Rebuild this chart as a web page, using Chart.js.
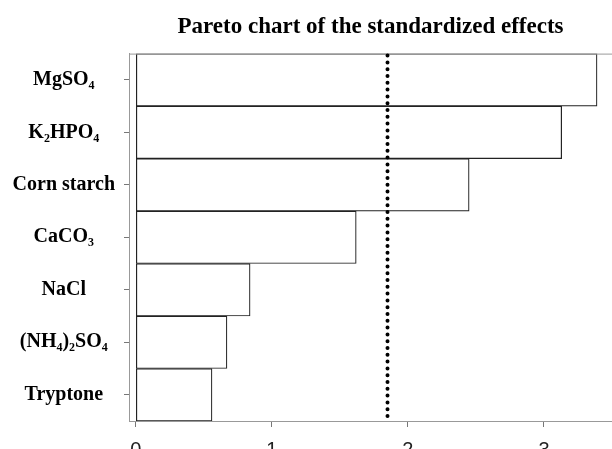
<!DOCTYPE html>
<html>
<head>
<meta charset="utf-8">
<script src="https://cdn.jsdelivr.net/npm/chart.js@4/dist/chart.umd.min.js"></script>
<style>
  html, body { margin: 0; padding: 0; background: #fff; overflow: hidden; }
  canvas { display: block; }
</style>
</head>
<body>
<canvas id="myChart" width="612" height="449"></canvas>
<script>
// factors, top to bottom
const factors = ['MgSO₄', 'K₂HPO₄', 'Corn starch', 'CaCO₃', 'NaCl', '(NH₄)₂SO₄', 'Tryptone'];
// standardized effects
const effects = [3.39, 3.13, 2.45, 1.62, 0.84, 0.67, 0.56];
// critical value (dotted line)
const refLine = 1.85;
const xTicks = [0, 1, 2, 3];

const ctx = document.getElementById('myChart');

// frame round the plot + dotted reference line
const extras = {
  id: 'extras',
  afterDatasetsDraw(chart) {
    const c = chart.ctx;
    const a = chart.chartArea;
    c.save();
    c.strokeStyle = '#999';
    c.lineWidth = 1;
    c.strokeRect(a.left + 0.5, a.top + 0.5, a.right - a.left, a.bottom - a.top);

    const x = chart.scales.x.getPixelForValue(refLine);
    c.strokeStyle = '#000';
    c.lineWidth = 4;
    c.lineCap = 'round';
    c.setLineDash([0, 6.8]);
    c.beginPath();
    c.moveTo(x, a.top + 2);
    c.lineTo(x, a.bottom - 3);
    c.stroke();
    c.restore();
  }
};

new Chart(ctx, {
  type: 'bar',
  data: {
    labels: factors,
    datasets: [{
      data: effects,
      backgroundColor: '#fff',
      borderColor: '#222',
      borderWidth: 1.2,
      borderSkipped: false,
      barPercentage: 1,
      categoryPercentage: 1
    }]
  },
  options: {
    indexAxis: 'y',
    responsive: false,
    animation: false,
    layout: { padding: { left: 0, right: 0, top: 0, bottom: 0 } },
    plugins: {
      legend: { display: false },
      tooltip: { enabled: false },
      title: {
        display: true,
        text: 'Pareto chart of the standardized effects',
        fullSize: false,
        color: '#000',
        font: { family: '"Liberation Serif", "Times New Roman", serif', size: 23, weight: 'bold' },
        padding: { top: 13, bottom: 13 }
      }
    },
    scales: {
      x: {
        type: 'linear',
        min: -0.05,
        max: 3.5,
        afterBuildTicks: (scale) => { scale.ticks = xTicks.map(v => ({ value: v })); },
        afterFit: (scale) => { scale.height = 28; },
        grid: { drawOnChartArea: false, drawTicks: true, tickLength: 6, color: '#777' },
        border: { display: true, color: '#999' },
        ticks: {
          color: '#222',
          padding: 11,
          font: { family: '"Liberation Sans", Arial, sans-serif', size: 20 }
        }
      },
      y: {
        afterFit: (scale) => { scale.width = 129; },
        grid: { drawOnChartArea: false, drawTicks: true, tickLength: 5, offset: false, color: '#777' },
        border: { display: true, color: '#999' },
        ticks: {
          color: '#000',
          crossAlign: 'center',
          padding: 9,
          font: { family: '"Liberation Serif", "Times New Roman", serif', size: 20, weight: 'bold' }
        }
      }
    }
  },
  plugins: [extras]
});
</script>
</body>
</html>
